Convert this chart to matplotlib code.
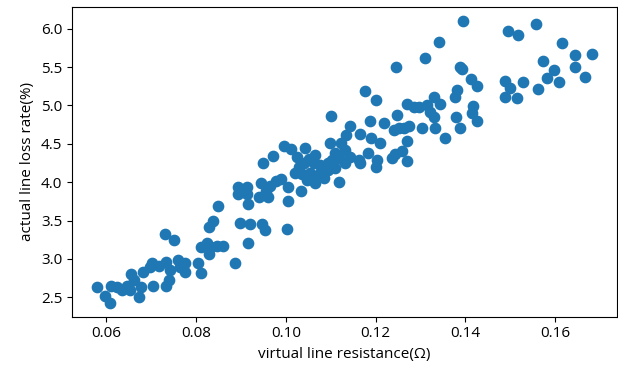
import matplotlib
matplotlib.use("Agg")
import matplotlib.pyplot as plt

plt.rcParams['font.family'] = ['Open Sans', 'DejaVu Sans']
plt.rcParams['font.size'] = 11
plt.rcParams['axes.unicode_minus'] = False

# virtual line resistance (ohm)
resistance = [
    0.0579, 0.0597, 0.0608, 0.0610, 0.0624, 0.0635, 0.0646, 0.0652, 0.0655, 0.0661,
    0.0672, 0.0677, 0.0683, 0.0705, 0.0697, 0.0703, 0.0717, 0.0734, 0.0730, 0.0750,
    0.0734, 0.0743, 0.0741, 0.0761, 0.0765, 0.0776, 0.0776, 0.0805, 0.0812,
    0.0812, 0.0825, 0.0834, 0.0830, 0.0847, 0.0861, 0.0887, 0.0830, 0.0839, 0.0850,
    0.0898, 0.0920, 0.0916, 0.0947, 0.0954, 0.1002, 0.0894, 0.0914, 0.0894, 0.0914,
    0.0916, 0.0945, 0.0965, 0.0978, 0.0989, 0.0956, 0.0940, 0.0960, 0.1004, 0.1004,
    0.0949, 0.0971, 0.0996, 0.1011, 0.1033,
    0.1043, 0.1064, 0.1026, 0.1030, 0.1041, 0.1037, 0.1054, 0.1047, 0.1063, 0.1077,
    0.1093, 0.1104, 0.1119, 0.1131, 0.1077, 0.1093, 0.1020, 0.1119, 0.1064,
    0.1098, 0.1122, 0.1131, 0.1109, 0.1164, 0.1184, 0.1100, 0.1144, 0.1188,
    0.1133, 0.1166,
    0.1177, 0.1201, 0.1246, 0.1310, 0.1341, 0.1394, 0.1387, 0.1392, 0.1412, 0.1425,
    0.1381, 0.1376, 0.1330, 0.1343, 0.1270, 0.1285, 0.1297, 0.1314, 0.1321, 0.1330,
    0.1248, 0.1219, 0.1252, 0.1263, 0.1274, 0.1241, 0.1303, 0.1332, 0.1354, 0.1379,
    0.1387, 0.1416, 0.1414, 0.1425, 0.1189, 0.1210, 0.1270, 0.1259, 0.1243, 0.1237,
    0.1270, 0.1204, 0.1200, 0.1166, 0.1144,
    0.1496, 0.1518, 0.1558, 0.1616, 0.1645, 0.1682, 0.1645, 0.1667, 0.1573, 0.1598,
    0.1582, 0.1609, 0.1562, 0.1529, 0.1489, 0.1500, 0.1489, 0.1514,
    0.1070, 0.1085, 0.1110, 0.1052,
]

# actual line loss rate (%)
loss_rate = [
    2.63, 2.52, 2.43, 2.64, 2.63, 2.59, 2.64, 2.60, 2.80, 2.72,
    2.50, 2.63, 2.83, 2.65, 2.90, 2.95, 2.91, 2.64, 3.32, 3.25,
    2.96, 2.86, 2.73, 2.98, 2.90, 2.95, 2.83, 2.94, 2.81,
    3.15, 3.21, 3.15, 3.06, 3.17, 3.17, 2.95, 3.42, 3.49, 3.69,
    3.47, 3.45, 3.21, 3.45, 3.38, 3.39, 3.94, 3.94, 3.84, 3.84,
    3.71, 3.99, 3.95, 4.01, 4.04, 3.88, 3.81, 3.81, 3.94, 3.76,
    4.25, 4.34, 4.47, 4.43, 3.89,
    4.45, 4.36, 4.33, 4.20, 4.25, 4.10, 4.12, 4.03, 4.25, 4.23,
    4.25, 4.29, 4.32, 4.25, 4.12, 4.16, 4.12, 4.00, 3.99,
    4.51, 4.51, 4.42, 4.38, 4.29, 4.38, 4.86, 4.73, 4.80,
    4.62, 4.63,
    5.19, 5.07, 5.50, 5.62, 5.83, 6.10, 5.50, 5.47, 5.34, 5.26,
    5.20, 5.11, 5.11, 5.02, 5.02, 4.98, 4.98, 5.01, 4.92, 4.85,
    4.88, 4.77, 4.70, 4.71, 4.73, 4.68, 4.71, 4.70, 4.58, 4.85,
    4.70, 4.99, 4.90, 4.80, 4.58, 4.51, 4.54, 4.41, 4.37, 4.32,
    4.27, 4.29, 4.20, 4.25, 4.33,
    5.97, 5.92, 6.06, 5.81, 5.66, 5.67, 5.50, 5.37, 5.58, 5.46,
    5.36, 5.31, 5.21, 5.31, 5.32, 5.23, 5.11, 5.10,
    4.08, 4.05, 4.18, 4.30,
]

fig = plt.figure(figsize=(6.18, 3.72), dpi=100)
ax = fig.add_axes([0.1165, 0.1487, 0.8815, 0.8325])
ax.scatter(resistance, loss_rate, s=55, color='#1f77b4')
ax.set_xlabel('virtual line resistance(Ω)')
ax.set_ylabel('actual line loss rate(%)')
fig.savefig('out.png', dpi=100)
